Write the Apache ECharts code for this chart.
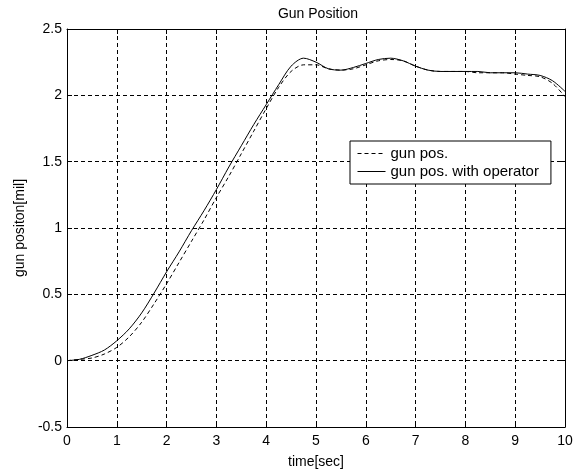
<!DOCTYPE html>
<html>
<head>
<meta charset="utf-8">
<script src="https://cdn.jsdelivr.net/npm/echarts@6/dist/echarts.min.js"></script>
<style>
  html, body { margin: 0; padding: 0; background: #fff; }
  #main { width: 584px; height: 474px; }
</style>
</head>
<body>
<div id="main"></div>
<script>
// time axis samples (sec)
var timeSec = [0, 0.25, 0.5, 0.75, 1, 1.25, 1.5, 1.75, 2, 2.25, 2.5, 2.75, 3, 3.25, 3.5, 3.75,
    4, 4.25, 4.5, 4.75, 5, 5.25, 5.5, 5.75, 6, 6.25, 6.5, 6.75, 7, 7.25, 7.5, 7.75,
    8, 8.25, 8.5, 8.75, 9, 9.25, 9.5, 9.75, 10];

// gun pos. (dashed)
var gunPos = [0, 0.01, 0.02, 0.05, 0.1, 0.18, 0.29, 0.43, 0.58, 0.74, 0.9, 1.06, 1.23, 1.39, 1.56, 1.73,
    1.9, 2.06, 2.18, 2.23, 2.23, 2.2, 2.19, 2.2, 2.23, 2.26, 2.27, 2.26, 2.22, 2.19, 2.18, 2.18,
    2.18, 2.17, 2.17, 2.17, 2.16, 2.15, 2.14, 2.09, 1.99];

// gun pos. with operator (solid)
var gunPosOp = [0, 0.01, 0.04, 0.08, 0.15, 0.24, 0.36, 0.51, 0.67, 0.82, 0.98, 1.13, 1.29, 1.46, 1.62, 1.78,
    1.93, 2.08, 2.22, 2.28, 2.25, 2.2, 2.19, 2.21, 2.24, 2.27, 2.28, 2.26, 2.22, 2.19, 2.18, 2.18,
    2.18, 2.18, 2.17, 2.17, 2.17, 2.16, 2.15, 2.11, 2.03];

var xTicks = [0, 1, 2, 3, 4, 5, 6, 7, 8, 9, 10];
var yTicks = [-0.5, 0, 0.5, 1, 1.5, 2, 2.5];

function pairs(xs, ys) {
    var out = [];
    for (var i = 0; i < xs.length; i++) {
        out.push([xs[i], ys[i]]);
    }
    return out;
}

var font = 'Liberation Sans, Arial, sans-serif';
var chart = echarts.init(document.getElementById('main'), null, {renderer: 'canvas'});

var tickStyle = {show: true, inside: true, length: 5, lineStyle: {color: '#000', width: 1}};
var lineAxis = {show: true, onZero: false, lineStyle: {color: '#000', width: 1}};
var gridLine = {show: true, lineStyle: {color: '#000', width: 1, type: [4, 3]}};
var labelStyle = {fontFamily: font, fontSize: 14, color: '#000'};

var option = {
    backgroundColor: '#fff',
    animation: false,
    title: {
        text: 'Gun Position',
        left: 313,
        textAlign: 'center',
        top: 2,
        textStyle: {fontFamily: font, fontSize: 14, fontWeight: 'normal', color: '#000'}
    },
    legend: {
        orient: 'vertical',
        left: 350,
        top: 141,
        padding: [5, 12, 5, 7],
        itemGap: 3,
        itemWidth: 28,
        itemHeight: 14,
        backgroundColor: '#fff',
        borderColor: '#000',
        borderWidth: 1,
        borderRadius: 0,
        itemStyle: {opacity: 0},
        lineStyle: {width: 1},
        textStyle: {fontFamily: font, fontSize: 15, color: '#000'},
        data: ['gun pos.', 'gun pos. with operator']
    },
    grid: {left: 67, right: 19, top: 29, bottom: 45},
    xAxis: [
        {
            type: 'value',
            min: xTicks[0],
            max: xTicks[xTicks.length - 1],
            interval: 1,
            name: 'time[sec]',
            nameLocation: 'middle',
            nameGap: 28,
            nameTextStyle: labelStyle,
            axisLine: lineAxis,
            axisTick: tickStyle,
            axisLabel: {fontFamily: font, fontSize: 14, color: '#000', margin: 7},
            splitLine: gridLine
        },
        {
            type: 'value',
            position: 'top',
            min: 0, max: 10, interval: 1,
            axisLine: lineAxis,
            axisTick: tickStyle,
            axisLabel: {show: false},
            splitLine: {show: false}
        }
    ],
    yAxis: [
        {
            type: 'value',
            min: yTicks[0],
            max: yTicks[yTicks.length - 1],
            interval: 0.5,
            name: 'gun positon[mil]',
            nameLocation: 'middle',
            nameGap: 37,
            nameTextStyle: labelStyle,
            axisLine: lineAxis,
            axisTick: tickStyle,
            axisLabel: {fontFamily: font, fontSize: 14, color: '#000', margin: 5},
            splitLine: gridLine
        },
        {
            type: 'value',
            position: 'right',
            min: -0.5, max: 2.5, interval: 0.5,
            axisLine: lineAxis,
            axisTick: tickStyle,
            axisLabel: {show: false},
            splitLine: {show: false}
        }
    ],
    series: [
        {
            name: 'gun pos.',
            type: 'line',
            smooth: 0.3,
            symbol: 'none',
            lineStyle: {color: '#000', width: 1, type: [4, 3]},
            itemStyle: {color: '#000'},
            data: pairs(timeSec, gunPos)
        },
        {
            name: 'gun pos. with operator',
            type: 'line',
            smooth: 0.3,
            symbol: 'none',
            lineStyle: {color: '#000', width: 1, type: 'solid'},
            itemStyle: {color: '#000'},
            data: pairs(timeSec, gunPosOp)
        }
    ]
};
chart.setOption(option);
</script>
</body>
</html>
